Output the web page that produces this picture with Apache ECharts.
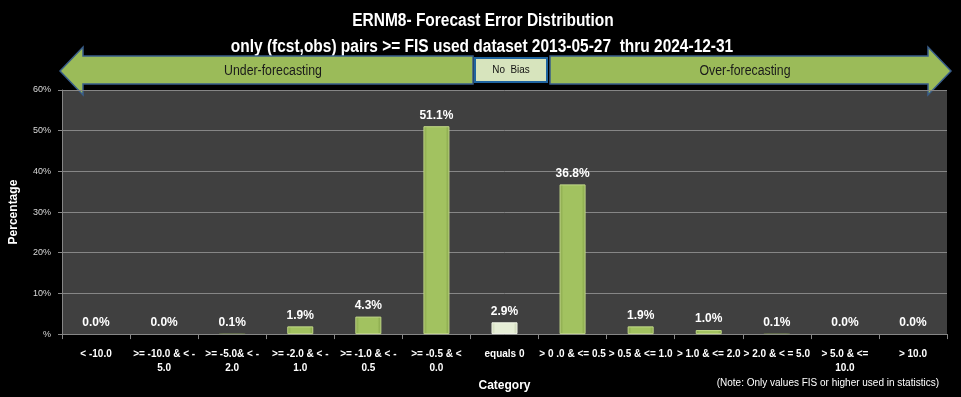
<!DOCTYPE html>
<html>
<head>
<meta charset="utf-8">
<script src="https://cdn.jsdelivr.net/npm/echarts@6/dist/echarts.min.js"></script>
<style>
  html, body { margin: 0; padding: 0; background: #000; }
  #chart { width: 961px; height: 397px; }
</style>
</head>
<body>
<div id="chart"></div>
<script>
  // chart data
  const categories = [
    '< -10.0',
    '>= -10.0 & < -\n5.0',
    '>= -5.0& < -\n2.0',
    '>= -2.0 & < -\n1.0',
    '>= -1.0 & < -\n0.5',
    '>= -0.5 & <\n0.0',
    'equals 0',
    '> 0 .0 & <= 0.5',
    '> 0.5 & <= 1.0',
    '> 1.0 & <= 2.0',
    '> 2.0 & < = 5.0',
    '> 5.0 & <=\n10.0',
    '> 10.0'
  ];
  const percentages = [0.0, 0.0, 0.1, 1.9, 4.3, 51.1, 2.9, 36.8, 1.9, 1.0, 0.1, 0.0, 0.0];
  const yTicks = [0, 10, 20, 30, 40, 50, 60];

  const titleText = 'ERNM8- Forecast Error Distribution';
  const subText = 'only (fcst,obs) pairs >= FIS used dataset 2013-05-27  thru 2024-12-31';

  const barGreen = {
    type: 'linear', x: 0, y: 0, x2: 1, y2: 0,
    colorStops: [
      { offset: 0, color: '#86a34a' },
      { offset: 0.15, color: '#a2c260' },
      { offset: 0.85, color: '#a2c260' },
      { offset: 1, color: '#82a047' }
    ]
  };
  const barPale = {
    type: 'linear', x: 0, y: 0, x2: 1, y2: 0,
    colorStops: [
      { offset: 0, color: '#c9d4b2' },
      { offset: 0.15, color: '#e6eed6' },
      { offset: 0.85, color: '#e6eed6' },
      { offset: 1, color: '#c5d0ad' }
    ]
  };

  const barData = percentages.map(function (v, i) {
    const pale = categories[i] === 'equals 0';
    return {
      value: v,
      itemStyle: {
        color: pale ? barPale : barGreen,
        borderColor: pale ? '#f4f8ea' : '#c3da88',
        borderWidth: v >= 1 ? 1 : 0
      }
    };
  });

  const chart = echarts.init(document.getElementById('chart'));
  chart.setOption({
    backgroundColor: '#000',
    animation: false,
    grid: {
      left: 61, right: 14, top: 90, bottom: 57,
      show: true, backgroundColor: '#404040', borderWidth: 0
    },
    xAxis: {
      type: 'category',
      data: categories,
      name: 'Category',
      nameLocation: 'middle',
      nameGap: 44,
      nameTextStyle: { color: '#fff', fontSize: 12, fontWeight: 'bold', fontFamily: 'Liberation Sans' },
      axisLine: { lineStyle: { color: '#868686' } },
      axisTick: { show: true, length: 5, lineStyle: { color: '#868686' } },
      axisLabel: {
        interval: 0, color: '#fff', fontSize: 10, fontWeight: 'bold',
        fontFamily: 'Liberation Sans', lineHeight: 14, margin: 13,
        width: 70, overflow: 'none'
      }
    },
    yAxis: {
      type: 'value',
      min: yTicks[0],
      max: yTicks[yTicks.length - 1],
      interval: 10,
      name: 'Percentage',
      nameLocation: 'middle',
      nameRotate: 90,
      nameGap: 42,
      nameTextStyle: { color: '#fff', fontSize: 12, fontWeight: 'bold', fontFamily: 'Liberation Sans' },
      axisLine: { show: true, lineStyle: { color: '#868686' } },
      axisTick: { show: true, length: 4, lineStyle: { color: '#868686' } },
      splitLine: { lineStyle: { color: '#868686', width: 1 } },
      axisLabel: {
        color: '#d9d9d9', fontSize: 9, fontFamily: 'Liberation Sans', margin: 11,
        formatter: function (v) { return v === 0 ? '%' : v + '%'; }
      }
    },
    series: [{
      type: 'bar',
      data: barData,
      barWidth: 26,
      label: {
        show: true, position: 'top', distance: 5,
        color: '#fff', fontSize: 12, fontWeight: 'bold', fontFamily: 'Liberation Sans',
        formatter: function (p) { return p.value.toFixed(1) + '%'; }
      }
    }],
    graphic: [
      {
        type: 'text', x: 483, y: 21, scaleX: 0.86,
        style: { text: titleText, fill: '#fff', font: 'bold 18px "Liberation Sans"', align: 'center', verticalAlign: 'middle' }
      },
      {
        type: 'text', x: 482, y: 47, scaleX: 0.86,
        style: { text: subText, fill: '#fff', font: 'bold 18px "Liberation Sans"', align: 'center', verticalAlign: 'middle' }
      },
      {
        type: 'polygon',
        shape: { points: [[60, 71], [83, 47], [83, 56], [473, 56], [473, 84], [83, 84], [83, 95]] },
        style: { fill: '#9bbb59', stroke: '#385d8a', lineWidth: 1.5 }
      },
      {
        type: 'polygon',
        shape: { points: [[550, 56], [928, 56], [928, 47], [951, 71], [928, 95], [928, 84], [550, 84]] },
        style: { fill: '#9bbb59', stroke: '#385d8a', lineWidth: 1.5 }
      },
      {
        type: 'rect',
        shape: { x: 475, y: 58, width: 72, height: 24 },
        style: { fill: '#d7e4bd', stroke: '#1f64a0', lineWidth: 2 }
      },
      {
        type: 'text', x: 511, y: 70, scaleX: 0.9,
        style: { text: 'No  Bias', fill: '#111', font: '11px "Liberation Sans"', align: 'center', verticalAlign: 'middle' }
      },
      {
        type: 'text', x: 273, y: 71, scaleX: 0.88,
        style: { text: 'Under-forecasting', fill: '#1a1a1a', font: '14px "Liberation Sans"', align: 'center', verticalAlign: 'middle' }
      },
      {
        type: 'text', x: 745, y: 71, scaleX: 0.88,
        style: { text: 'Over-forecasting', fill: '#1a1a1a', font: '14px "Liberation Sans"', align: 'center', verticalAlign: 'middle' }
      },
      {
        type: 'text', x: 939, y: 383,
        style: { text: '(Note: Only values FIS or higher used in statistics)', fill: '#fff', font: '10px "Liberation Sans"', align: 'right', verticalAlign: 'middle' }
      }
    ]
  });
</script>
</body>
</html>
